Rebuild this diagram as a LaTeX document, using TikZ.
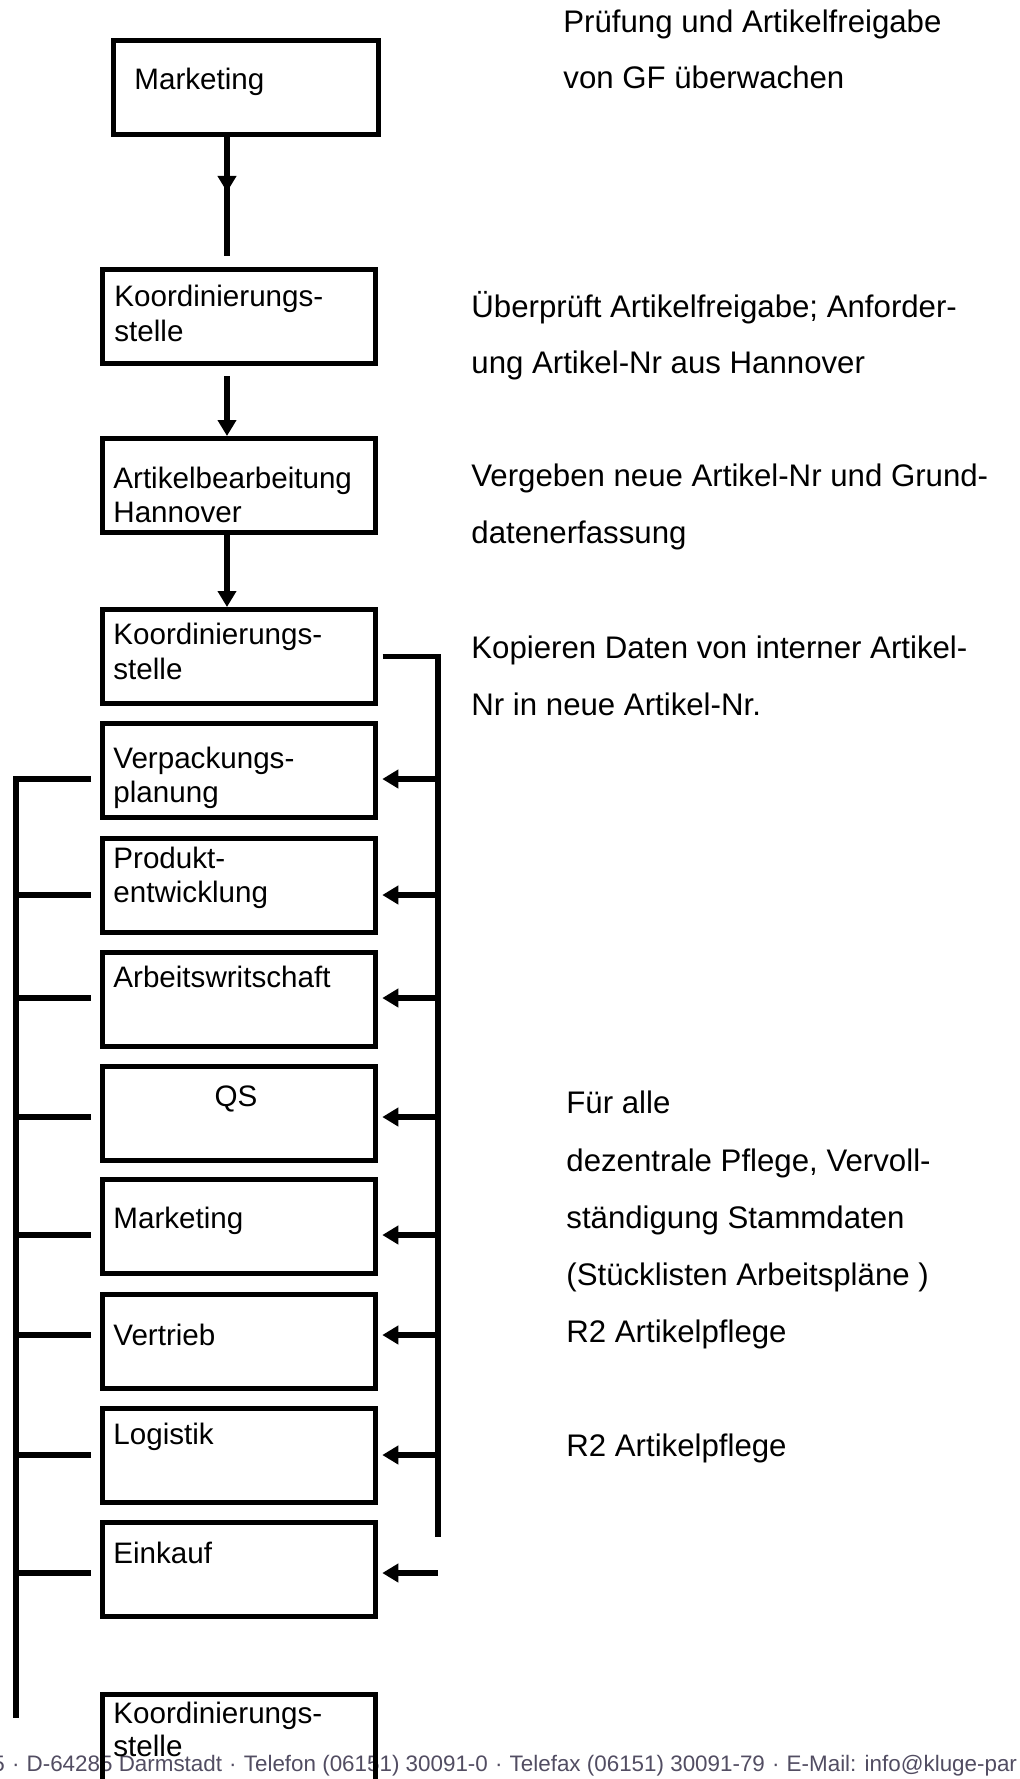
\documentclass[tikz,border=0pt]{standalone}
\usepackage{fontspec}
\setmainfont{Liberation Sans}
\usepackage{xcolor}
\usetikzlibrary{arrows.meta,positioning,decorations.markings}

\definecolor{footgray}{RGB}{82,77,98}
\newcommand{\footsep}{\hspace{0.32em}·\hspace{0.32em}}

\begin{document}
\begin{tikzpicture}[
  x=0.5pt, y=-0.5pt,
  box/.style={rectangle, draw, line width=2.5pt, minimum width=136.5pt, minimum height=47pt, inner sep=0pt},
  boxtext/.style={anchor=base west, inner sep=0pt, font=\fontsize{14.8}{17}\selectfont},
  note/.style={anchor=base west, inner sep=0pt, font=\fontsize{15.6}{18}\selectfont},
  wire/.style={line width=2.7pt},
  arrow/.style={wire, -{Triangle[length=8pt, width=9pt]}},
  tobox/.style={arrow, shorten >=2.4pt},
  stub/.style={wire, shorten >=4.25pt},
  midarrow/.style={decoration={markings, mark=at position #1 with {\arrow{Triangle[length=8pt, width=9pt]}}}, postaction={decorate}}
]
\useasboundingbox (0,0) rectangle (1020,1779);
\clip (0,0) rectangle (1020,1779);

% Footer line of the page
\node[anchor=base west, inner sep=0pt, text=footgray, font=\fontsize{11.2}{13}\selectfont] (foot) at (-8,1771)
  {5\footsep D-64285 Darmstadt\footsep Telefon (06151) 30091-0\footsep Telefax (06151) 30091-79\footsep E-Mail: info@kluge-par};

% Boxes
\node[box, minimum width=132.5pt] (b1) at (245.5,87) {};
\node[box] (b2) at (238.5,316) {};
\node[box] (b3) at (238.5,485.5) {};
\node[box] (b4) at (238.5,656.5) {};
\node[box] (b5) at (238.5,770.5) {};
\node[box] (b6) at (238.5,885.5) {};
\node[box] (b7) at (238.5,999) {};
\node[box] (b8) at (238.5,1113) {};
\node[box] (b9) at (238.5,1226.5) {};
\node[box] (b10) at (238.5,1341.5) {};
\node[box] (b11) at (238.5,1455.5) {};
\node[box] (b12) at (238.5,1569) {};
\node[box] (b13) at (238.5,1741) {};

% Box labels
\node[boxtext] (t1) at (134,89) {Marketing};
\node[boxtext] (t2a) at (114,306) {Koordinierungs-};
\node[boxtext] (t2b) at (114,341) {stelle};
\node[boxtext] (t3a) at (113,488) {Artikelbearbeitung};
\node[boxtext] (t3b) at (113,522) {Hannover};
\node[boxtext] (t4a) at (113,644) {Koordinierungs-};
\node[boxtext] (t4b) at (113,679) {stelle};
\node[boxtext] (t5a) at (113,768) {Verpackungs-};
\node[boxtext] (t5b) at (113,802) {planung};
\node[boxtext] (t6a) at (113,868) {Produkt-};
\node[boxtext] (t6b) at (113,902) {entwicklung};
\node[boxtext] (t7) at (113,987) {Arbeitswritschaft};
\node[boxtext, anchor=base] (t8) at (236,1106) {QS};
\node[boxtext] (t9) at (113,1228) {Marketing};
\node[boxtext] (t10) at (113,1345) {Vertrieb};
\node[boxtext] (t11) at (113,1444) {Logistik};
\node[boxtext] (t12) at (113,1563) {Einkauf};
\node[boxtext] (t13a) at (113,1723) {Koordinierungs-};
\node[boxtext] (t13b) at (113,1756) {stelle};

% Notes on the right
\node[note] (n1a) at (563,32) {Prüfung und Artikelfreigabe};
\node[note] (n1b) at (563,88) {von GF überwachen};
\node[note] (n2a) at (471,317) {Überprüft Artikelfreigabe; Anforder-};
\node[note] (n2b) at (471,373) {ung Artikel-Nr aus Hannover};
\node[note] (n3a) at (471,486) {Vergeben neue Artikel-Nr und Grund-};
\node[note] (n3b) at (471,543) {datenerfassung};
\node[note] (n4a) at (471,658) {Kopieren Daten von interner Artikel-};
\node[note] (n4b) at (471,715) {Nr in neue Artikel-Nr.};
\node[note] (n5a) at (566,1113) {Für alle};
\node[note] (n5b) at (566,1171) {dezentrale Pflege, Vervoll-};
\node[note] (n5c) at (566,1228) {ständigung Stammdaten};
\node[note] (n5d) at (566,1285) {(Stücklisten Arbeitspläne )};
\node[note] (n5e) at (566,1342) {R2 Artikelpflege};
\node[note] (n6) at (566,1456) {R2 Artikelpflege};

% Chain at the top
\coordinate (a1e) at (227,256);
\coordinate (a2s) at (227,376);
\draw[wire, line width=3pt, midarrow=0.464] (b1.south -| a1e) -- (a1e);
\draw[arrow, line width=3pt] (a2s) -- (a2s |- b3.north);
\draw[arrow, line width=3pt] (b3.south -| a2s) -- (b4.north -| a2s);

% Bus on the right
\coordinate (rbot) at (438,1537);
\coordinate (r5) at (438,779);
\coordinate (r6) at (438,895);
\coordinate (r7) at (438,998);
\coordinate (r8) at (438,1117);
\coordinate (r9) at (438,1235);
\coordinate (r10) at (438,1335);
\coordinate (r11) at (438,1455);
\coordinate (r12) at (438,1573);
\draw[wire, shorten <=2.5pt] (b4.east) -| (rbot);
\draw[tobox] (r5) -- (r5 -| b5.east);
\draw[tobox] (r6) -- (r6 -| b6.east);
\draw[tobox] (r7) -- (r7 -| b7.east);
\draw[tobox] (r8) -- (r8 -| b8.east);
\draw[tobox] (r9) -- (r9 -| b9.east);
\draw[tobox] (r10) -- (r10 -| b10.east);
\draw[tobox] (r11) -- (r11 -| b11.east);
\draw[tobox] (r12) -- (r12 -| b12.east);

% Bus on the left
\coordinate (l5) at (16,779);
\coordinate (l6) at (16,895);
\coordinate (l7) at (16,998);
\coordinate (l8) at (16,1117);
\coordinate (l9) at (16,1235);
\coordinate (l10) at (16,1335);
\coordinate (l11) at (16,1455);
\coordinate (l12) at (16,1573);
\coordinate (lbot) at (16,1718);
\draw[wire, shorten <=4.25pt] (l5 -| b5.west) -- (l5) -- (lbot);
\draw[stub] (l6) -- (l6 -| b6.west);
\draw[stub] (l7) -- (l7 -| b7.west);
\draw[stub] (l8) -- (l8 -| b8.west);
\draw[stub] (l9) -- (l9 -| b9.west);
\draw[stub] (l10) -- (l10 -| b10.west);
\draw[stub] (l11) -- (l11 -| b11.west);
\draw[stub] (l12) -- (l12 -| b12.west);

\end{tikzpicture}
\end{document}
